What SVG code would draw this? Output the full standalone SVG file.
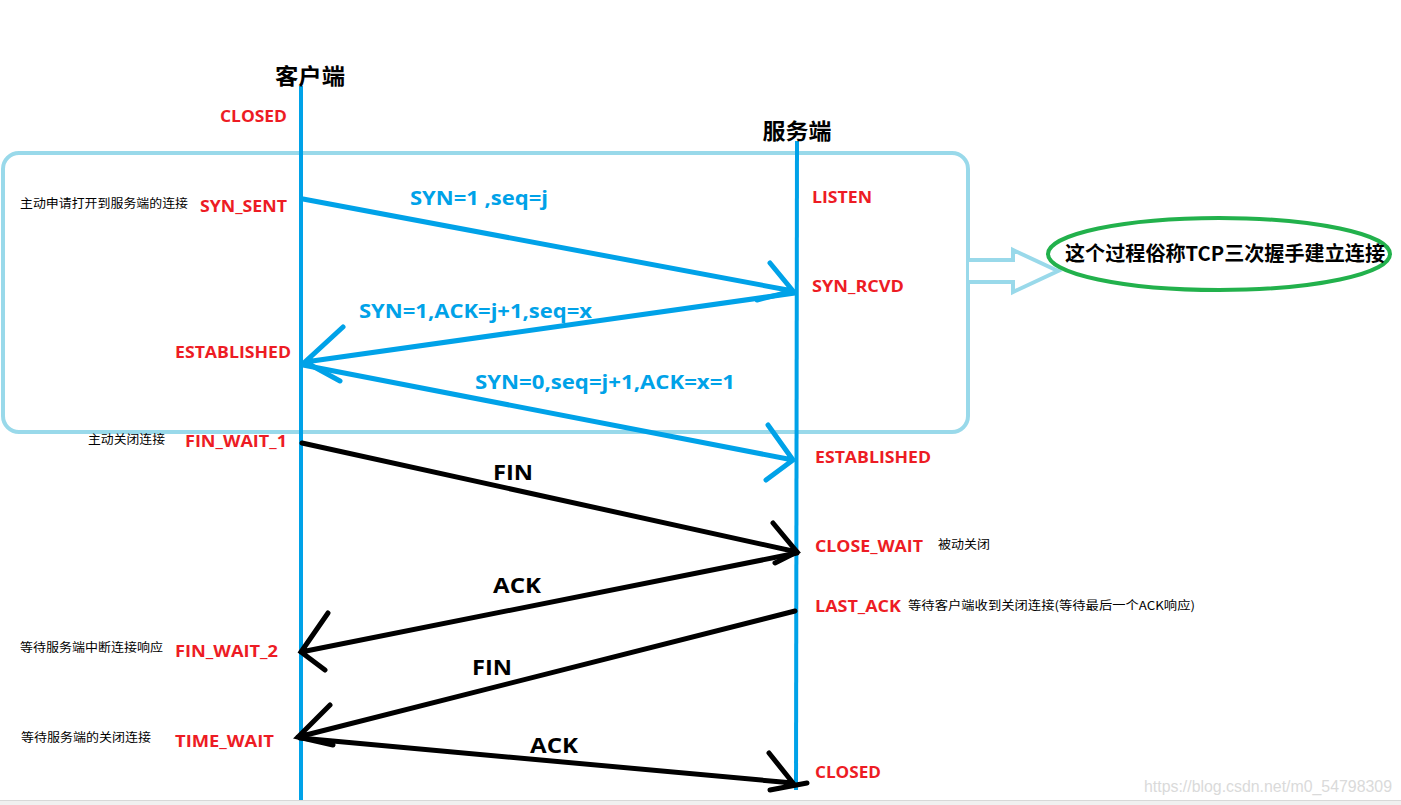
<svg xmlns="http://www.w3.org/2000/svg" width="1401" height="805" viewBox="0 0 1401 805">
<style>
.life{stroke:#00a2e8;stroke-width:4;fill:none}
.blue{stroke:#00a2e8;stroke-width:5;stroke-linecap:round;fill:none}
.blk{stroke:#000;stroke-width:5;stroke-linecap:round;fill:none}
.st{font-family:"Open Sans","Noto Sans CJK SC",sans-serif;font-weight:bold;font-size:16px;fill:#ed1c24}
.note{font-family:"Noto Sans CJK SC",sans-serif;font-size:12px;fill:#000}
.hdr{font-family:"Noto Sans CJK SC",sans-serif;font-weight:bold;font-size:22px;fill:#000}
.bl{font-family:"Open Sans","Noto Sans CJK SC",sans-serif;font-weight:bold;font-size:20px;fill:#00a2e8}
.bk{font-family:"Open Sans",sans-serif;font-weight:bold;font-size:22px;fill:#000}
</style>
<rect width="1401" height="805" fill="#fff"/>
<g id="bottom-bar">
<rect x="0" y="800" width="1401" height="5" fill="#f0f0f0"/>
<line x1="0" y1="800.5" x2="1401" y2="800.5" stroke="#d8d8d8" stroke-width="1"/>
</g>
<g id="handshake-box">
<rect x="3" y="153" width="965" height="279" rx="16" fill="none" stroke="#99d9ea" stroke-width="4"/>
<polyline points="969,260 1013,260 1013,250 1058,271 1013,292 1013,282 969,282" fill="#fff" stroke="#99d9ea" stroke-width="4" stroke-linejoin="miter"/>
</g>
<g id="client">
<line class="life" x1="301" y1="86" x2="301" y2="800"/>
<text class="hdr" x="310" y="84" text-anchor="middle" textLength="70" lengthAdjust="spacingAndGlyphs">客户端</text>
</g>
<g id="server">
<line class="life" x1="797" y1="141" x2="796" y2="790"/>
<text class="hdr" x="797" y="139" text-anchor="middle" textLength="69" lengthAdjust="spacingAndGlyphs">服务端</text>
</g>
<g id="summary">
<ellipse cx="1219" cy="254" rx="171" ry="36" fill="#fff" stroke="#22b14c" stroke-width="4"/>
<text x="1225" y="261" text-anchor="middle" font-family="Noto Sans CJK SC, sans-serif" font-weight="bold" font-size="20" textLength="320" lengthAdjust="spacingAndGlyphs">这个过程俗称TCP三次握手建立连接</text>
</g>
<g id="client-states">
<text class="st" x="287" y="122" text-anchor="end" textLength="67" lengthAdjust="spacingAndGlyphs">CLOSED</text>
<text class="st" x="287" y="212" text-anchor="end" textLength="87" lengthAdjust="spacingAndGlyphs">SYN_SENT</text>
<text class="note" x="20" y="208" textLength="168" lengthAdjust="spacingAndGlyphs">主动申请打开到服务端的连接</text>
<text class="st" x="291" y="358" text-anchor="end" textLength="116" lengthAdjust="spacingAndGlyphs">ESTABLISHED</text>
<text class="st" x="287" y="447" text-anchor="end" textLength="102" lengthAdjust="spacingAndGlyphs">FIN_WAIT_1</text>
<text class="note" x="88" y="444" textLength="77" lengthAdjust="spacingAndGlyphs">主动关闭连接</text>
<text class="st" x="175" y="657" textLength="103" lengthAdjust="spacingAndGlyphs">FIN_WAIT_2</text>
<text class="note" x="20" y="652" textLength="143" lengthAdjust="spacingAndGlyphs">等待服务端中断连接响应</text>
<text class="st" x="175" y="747" textLength="99" lengthAdjust="spacingAndGlyphs">TIME_WAIT</text>
<text class="note" x="21" y="742" textLength="130" lengthAdjust="spacingAndGlyphs">等待服务端的关闭连接</text>
</g>
<g id="server-states">
<text class="st" x="812" y="203" textLength="60" lengthAdjust="spacingAndGlyphs">LISTEN</text>
<text class="st" x="812" y="292" textLength="92" lengthAdjust="spacingAndGlyphs">SYN_RCVD</text>
<text class="st" x="815" y="463" textLength="116" lengthAdjust="spacingAndGlyphs">ESTABLISHED</text>
<text class="st" x="815" y="552" textLength="108" lengthAdjust="spacingAndGlyphs">CLOSE_WAIT</text>
<text class="note" x="938" y="549" textLength="52" lengthAdjust="spacingAndGlyphs">被动关闭</text>
<text class="st" x="815" y="612" textLength="86" lengthAdjust="spacingAndGlyphs">LAST_ACK</text>
<text class="note" x="908" y="610" textLength="287" lengthAdjust="spacingAndGlyphs">等待客户端收到关闭连接(等待最后一个ACK响应)</text>
<text class="st" x="815" y="778" textLength="66" lengthAdjust="spacingAndGlyphs">CLOSED</text>
</g>
<g id="connectors">
<path class="blue" d="M303,199 L793,291 M770,263 L793,291 L757,300"/>
<path class="blue" d="M795,293 L305,362 M343,327 L305,362 L340,381"/>
<path class="blue" d="M303,365 L793,460 M768,425 L793,460 L766,480"/>
<path class="blk" d="M302,443 L797,552 M773,523 L797,552 L775,563"/>
<path class="blk" d="M797,553 L301,652 M328,613 L301,652 L325,670"/>
<path class="blk" d="M795,611 L298,737 M330,705 L298,737 L333,745"/>
<path class="blk" d="M300,738 L793,783 M769,753 L793,783 M770,790 L807,783"/>
</g>
<g id="labels">
<text class="bl" x="410" y="205" textLength="138" lengthAdjust="spacingAndGlyphs">SYN=1 ,seq=j</text>
<text class="bl" x="359" y="318" textLength="233" lengthAdjust="spacingAndGlyphs">SYN=1,ACK=j+1,seq=x</text>
<text class="bl" x="475" y="389" textLength="260" lengthAdjust="spacingAndGlyphs">SYN=0,seq=j+1,ACK=x=1</text>
<text class="bk" x="493" y="480" textLength="40" lengthAdjust="spacingAndGlyphs">FIN</text>
<text class="bk" x="493" y="593" textLength="48" lengthAdjust="spacingAndGlyphs">ACK</text>
<text class="bk" x="472" y="675" textLength="40" lengthAdjust="spacingAndGlyphs">FIN</text>
<text class="bk" x="530" y="753" textLength="48" lengthAdjust="spacingAndGlyphs">ACK</text>
</g>
<text x="1144" y="792" font-family="Liberation Sans, sans-serif" font-size="16" fill="#dadada" textLength="248" lengthAdjust="spacingAndGlyphs">https://blog.csdn.net/m0_54798309</text>
</svg>
